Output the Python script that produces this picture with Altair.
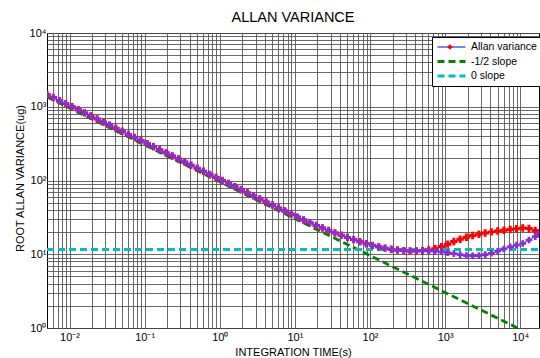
import altair as alt
import pandas as pd

# ---------------- data ----------------
TAU = [0.005012, 0.006072, 0.007357, 0.008913, 0.01080, 0.01308, 0.01585, 0.01920, 0.02326, 0.02818, 0.03415, 0.04137,
       0.05012, 0.06072, 0.07357, 0.08913, 0.1080, 0.1308, 0.1585, 0.1920, 0.2326, 0.2818, 0.3415, 0.4137,
       0.5012, 0.6072, 0.7357, 0.8913, 1.080, 1.308, 1.585, 1.920, 2.326, 2.818, 3.415, 4.137,
       5.012, 6.072, 7.357, 8.913, 10.80, 13.08, 15.85, 19.20, 23.26, 28.18, 34.15, 41.37,
       50.12, 60.72, 73.57, 89.13, 108.0, 130.8, 158.5, 192.0, 232.6, 281.8, 341.5, 413.7,
       501.2, 607.2, 735.7, 891.3, 1080, 1308, 1585, 1920, 2326, 2818, 3415, 4137,
       5012, 6072, 7357, 8913, 10800, 13080, 15850, 17780]

AV_RED = [1467.8, 1333.5, 1211.5, 1100.7, 1000.0, 908.5, 825.4, 749.9, 681.3, 619.0, 562.3, 510.9,
          464.2, 421.7, 383.1, 348.1, 316.2, 287.3, 261.0, 237.1, 215.4, 195.7, 177.8, 161.6,
          146.8, 133.4, 121.2, 110.1, 100.0, 90.85, 82.54, 74.99, 68.13, 61.90, 56.23, 51.09,
          46.5, 42.3, 38.5, 35.1, 31.9, 29.2, 26.8, 24.6, 22.7, 21.0, 19.5, 18.1,
          16.9, 15.8, 14.8, 13.9, 13.2, 12.6, 12.1, 11.7, 11.4, 11.2, 11.1, 11.1,
          11.2, 11.4, 11.9, 12.7, 13.7, 14.9, 16.0, 17.0, 18.0, 18.7, 19.4, 20.1,
          20.7, 21.2, 21.7, 22.2, 22.7, 22.4, 21.0, 19.3]

AV_PURPLE = [1467.8, 1333.5, 1211.5, 1100.7, 1000.0, 908.5, 825.4, 749.9, 681.3, 619.0, 562.3, 510.9,
             464.2, 421.7, 383.1, 348.1, 316.2, 287.3, 261.0, 237.1, 215.4, 195.7, 177.8, 161.6,
             146.8, 133.4, 121.2, 110.1, 100.0, 90.85, 82.54, 74.99, 68.13, 61.90, 56.23, 51.09,
             46.5, 42.3, 38.5, 35.1, 31.9, 29.2, 26.8, 24.6, 22.7, 21.0, 19.5, 18.1,
             16.9, 15.8, 14.8, 13.9, 13.2, 12.6, 12.1, 11.7, 11.4, 11.2, 11.1, 11.1,
             11.1, 11.1, 11.0, 10.8, 10.5, 10.2, 9.9, 9.6, 9.5, 9.6, 9.9, 10.3,
             11.0, 11.8, 12.6, 13.3, 14.0, 15.6, 17.3, 19.3]

HALF_SLOPE_TAU = [0.005012, 9216]
HALF_SLOPE_VAL = [1356, 1.0]
ZERO_SLOPE_TAU = [0.005012, 17780]
ZERO_SLOPE_VAL = [11.6, 11.6]

SERIES = ["Allan variance", "-1/2 slope", "0 slope"]
SERIES_COLORS = ["#0000ff", "#008000", "#00bfbf"]
MARKER_RED = "#ff0000"
MARKER_PURPLE = "#8a2be2"

X_TICKS = [m * 10.0 ** d for d in range(-3, 5) for m in range(1, 10)
           if TAU[0] <= m * 10.0 ** d <= TAU[-1]]
Y_TICKS = [m * 10.0 ** d for d in range(0, 4) for m in range(1, 10)] + [10000.0]

# ---------------- tables ----------------
lines_df = pd.concat([
    pd.DataFrame({"tau": TAU, "val": AV_RED, "series": SERIES[0]}),
    pd.DataFrame({"tau": HALF_SLOPE_TAU, "val": HALF_SLOPE_VAL, "series": SERIES[1]}),
    pd.DataFrame({"tau": ZERO_SLOPE_TAU, "val": ZERO_SLOPE_VAL, "series": SERIES[2]}),
], ignore_index=True)
red_df = pd.DataFrame({"tau": TAU, "val": AV_RED, "series": SERIES[0]})
purple_df = pd.DataFrame({"tau": TAU, "val": AV_PURPLE})

FONT = "Liberation Sans"

exp_expr = "round(log(datum.value)/LN10)"
label_expr = (f"abs(datum.value/pow(10,{exp_expr})-1) < 1e-6 ? "
              f"'10' + ({exp_expr} < 0 ? '⁻' : '') + ['⁰','¹','²','³','⁴'][abs({exp_expr})] : ''")

x_scale = alt.Scale(type="log", domain=[TAU[0], TAU[-1]], nice=False)
y_scale = alt.Scale(type="log", domain=[1, 10000], nice=False)

x_axis = alt.Axis(values=X_TICKS, labelExpr=label_expr, grid=True, ticks=False, tickSize=0,
                  labelFontSize=11, labelPadding=3, labelFlush=False, labelOverlap=False,
                  title="INTEGRATION TIME(s)", titleFontSize=11, titleFontWeight="normal",
                  titleY=18, titleBaseline="top")
y_axis = alt.Axis(values=Y_TICKS, labelExpr=label_expr, grid=True, ticks=False, tickSize=0,
                  labelFontSize=11, labelPadding=1, labelFlush=False, labelOverlap=False,
                  title="ROOT ALLAN VARIANCE(ug)", titleFontSize=11, titleFontWeight="normal",
                  titleX=-27, titleY=145, titleBaseline="middle", titleAngle=-90)

legend_lines = alt.Legend(orient="none", legendX=385, legendY=4, title=None,
                          fillColor="white", strokeColor="black", padding=4,
                          symbolType="stroke", symbolSize=784, clipHeight=12,
                          labelFontSize=10.5, labelFont=FONT, labelOffset=4,
                          rowPadding=2.5, labelLimit=200)

x_enc = alt.X("tau:Q", scale=x_scale, axis=x_axis)
y_enc = alt.Y("val:Q", scale=y_scale, axis=y_axis)

lines = alt.Chart(lines_df).mark_line(clip=True).encode(
    x=x_enc, y=y_enc,
    color=alt.Color("series:N", scale=alt.Scale(domain=SERIES, range=SERIES_COLORS), legend=legend_lines),
    strokeDash=alt.StrokeDash("series:N", scale=alt.Scale(domain=SERIES, range=[[1, 0], [7, 4], [7, 4]]),
                              legend=legend_lines),
    strokeWidth=alt.StrokeWidth("series:N", scale=alt.Scale(type="ordinal", domain=SERIES, range=[1.2, 2.8, 2.8]),
                                legend=legend_lines),
)

red_pts = alt.Chart(red_df).mark_point(shape="cross", filled=True, size=55, opacity=1, clip=True).encode(
    x=x_enc, y=y_enc,
    fill=alt.Fill("series:N", scale=alt.Scale(domain=[SERIES[0]], range=[MARKER_RED]),
                  legend=alt.Legend(orient="none", legendX=398, legendY=8, title=None, padding=0,
                                    clipHeight=12, symbolType="diamond", symbolSize=30,
                                    labelExpr="''", symbolStrokeWidth=0,
                                    strokeColor="transparent")),
)

purple_line = alt.Chart(purple_df).mark_line(color=MARKER_PURPLE, strokeWidth=1, clip=True).encode(
    x=x_enc, y=y_enc)
purple_pts = alt.Chart(purple_df).mark_point(shape="cross", filled=True, size=44, opacity=1,
                                             color=MARKER_PURPLE, clip=True).encode(x=x_enc, y=y_enc)

chart = alt.layer(lines, red_pts, purple_line, purple_pts).properties(
    width=492, height=295,
    title=alt.TitleParams("ALLAN VARIANCE", fontSize=14.5, fontWeight="normal", font=FONT,
                          anchor="middle", baseline="alphabetic", offset=10.5, dy=19.5),
    autosize=alt.AutoSizeParams(type="none"),
    padding={"left": 47, "top": 33, "right": 1, "bottom": 30},
).configure(font=FONT).configure_view(stroke="black", strokeWidth=1).configure_axis(
    gridColor="#505050", gridOpacity=0.85, gridWidth=1, domain=False,
    labelFont=FONT, titleFont=FONT, labelColor="black", titleColor="black"
)

chart.save("out.html", embed_options={"renderer": "svg", "actions": False})
